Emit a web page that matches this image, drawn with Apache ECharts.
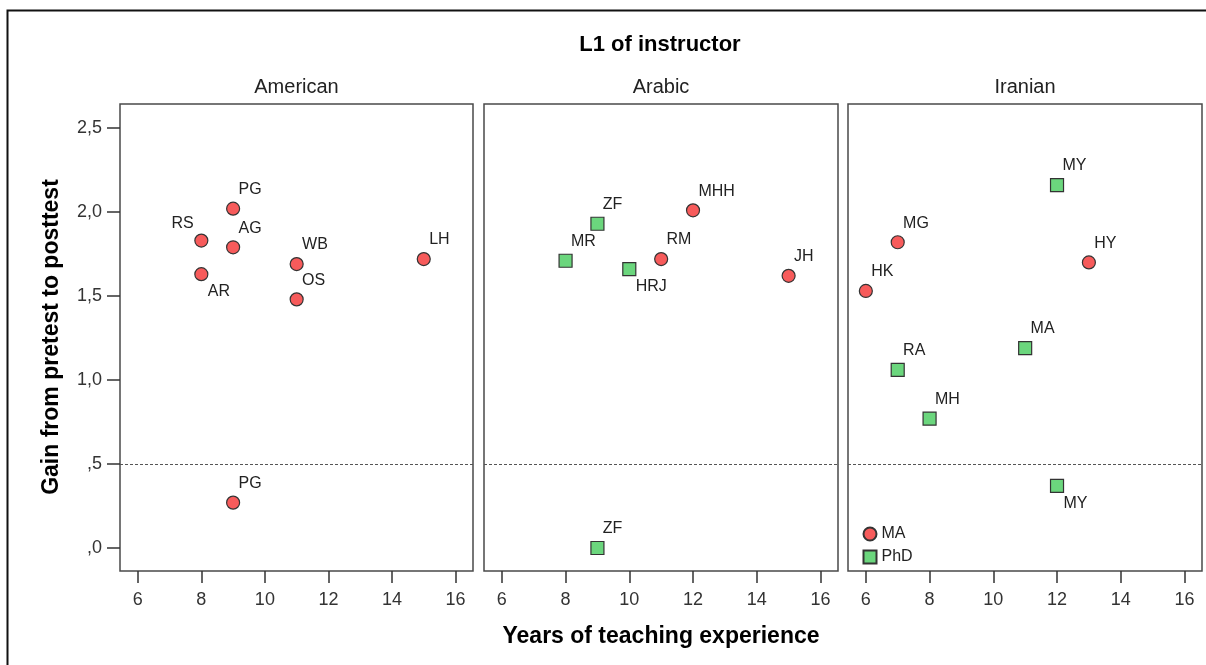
<!DOCTYPE html>
<html>
<head>
<meta charset="utf-8">
<script src="https://cdn.jsdelivr.net/npm/echarts@6/dist/echarts.min.js"></script>
<style>
  html, body { margin: 0; padding: 0; background: #fff; }
  #chart { width: 1206px; height: 665px; }
</style>
</head>
<body>
<div id="chart"></div>
<script>
// ---------------- data ----------------
const panels = ['American', 'Arabic', 'Iranian'];
const degrees = ['MA', 'PhD'];
const xTicks = [6, 8, 10, 12, 14, 16];
const yTicks = [0, 0.5, 1, 1.5, 2, 2.5];
const cutoff = 0.5;

const americanNames  = ['PG', 'RS', 'AG', 'AR', 'WB', 'OS', 'LH', 'PG'];
const americanYears  = [9, 8, 9, 8, 11, 11, 15, 9];
const americanGain   = [2.02, 1.83, 1.79, 1.63, 1.69, 1.48, 1.72, 0.27];
const americanDegree = ['MA', 'MA', 'MA', 'MA', 'MA', 'MA', 'MA', 'MA'];

const arabicNames  = ['ZF', 'MR', 'HRJ', 'RM', 'MHH', 'JH', 'ZF'];
const arabicYears  = [9, 8, 10, 11, 12, 15, 9];
const arabicGain   = [1.93, 1.71, 1.66, 1.72, 2.01, 1.62, 0.00];
const arabicDegree = ['PhD', 'PhD', 'PhD', 'MA', 'MA', 'MA', 'PhD'];

const iranianNames  = ['MY', 'MG', 'HY', 'HK', 'MA', 'RA', 'MH', 'MY'];
const iranianYears  = [12, 7, 13, 6, 11, 7, 8, 12];
const iranianGain   = [2.16, 1.82, 1.70, 1.53, 1.19, 1.06, 0.77, 0.37];
const iranianDegree = ['PhD', 'MA', 'MA', 'MA', 'PhD', 'PhD', 'PhD', 'PhD'];

// ---------------- styling / layout ----------------
const FONT = '"Liberation Sans", Arial, sans-serif';
const panelData = [
  { names: americanNames, years: americanYears, gain: americanGain, degree: americanDegree },
  { names: arabicNames, years: arabicYears, gain: arabicGain, degree: arabicDegree },
  { names: iranianNames, years: iranianYears, gain: iranianGain, degree: iranianDegree }
];
// label placement per point: ur = upper right, ul = upper left, lr = lower right
const labelSpots = [
  ['ur', 'ul', 'ur', 'lr', 'ur', 'ur', 'ur', 'ur'],
  ['ur', 'ur', 'lr', 'ur', 'ur', 'ur', 'ur'],
  ['ur', 'ur', 'ur', 'ur', 'ur', 'ur', 'ur', 'lr']
];
const grids = [
  { left: 120, top: 104, width: 353, height: 467 },
  { left: 484, top: 104, width: 354, height: 467 },
  { left: 848, top: 104, width: 354, height: 467 }
];
const degreeStyle = {
  MA:  { symbol: 'circle', color: '#f75b5b' },
  PhD: { symbol: 'rect',   color: '#6bd67d' }
};
const SYM = 13;

function labelFor(spot) {
  const h = SYM / 2;
  if (spot === 'ul') return { position: [h - 7, h - 16], align: 'right', verticalAlign: 'middle' };
  if (spot === 'lr') return { position: [h + 7, h + 18], align: 'left', verticalAlign: 'middle' };
  return { position: [h + 6, h - 18.5], align: 'left', verticalAlign: 'middle' };
}

function yFmt(v) {
  let s = Number(v).toFixed(1).replace('.', ',');
  if (s.startsWith('0')) s = s.slice(1);
  return s;
}

const gridOpts = grids.map(g => Object.assign({
  show: true, borderColor: '#4a4a4a', borderWidth: 1.5, backgroundColor: '#fff', containLabel: false
}, g));

const xAxes = grids.map((g, i) => ({
  type: 'value', gridIndex: i, min: 5.44, max: 16.55, position: 'bottom',
  splitLine: { show: false },
  axisLine: { show: false, onZero: false },
  axisTick: { show: true, inside: false, length: 12, customValues: xTicks,
              lineStyle: { color: '#333', width: 1.5 } },
  axisLabel: { show: true, customValues: xTicks, margin: 20, fontSize: 18,
               color: '#333', fontFamily: FONT }
}));

const yAxes = grids.map((g, i) => ({
  type: 'value', gridIndex: i, min: -0.137, max: 2.643, position: 'left',
  show: i === 0,
  splitLine: { show: false },
  axisLine: { show: false, onZero: false },
  axisTick: { show: i === 0, inside: false, length: 13, customValues: yTicks,
              lineStyle: { color: '#333', width: 1.5 } },
  axisLabel: { show: i === 0, customValues: yTicks, margin: 18, fontSize: 18,
               color: '#333', fontFamily: FONT, formatter: yFmt }
}));

const series = [];
panelData.forEach((pd, p) => {
  degrees.forEach(d => {
    const data = [];
    pd.names.forEach((n, k) => {
      if (pd.degree[k] !== d) return;
      data.push({ value: [pd.years[k], pd.gain[k]], name: n, label: labelFor(labelSpots[p][k]) });
    });
    const s = {
      type: 'scatter', name: d, xAxisIndex: p, yAxisIndex: p,
      symbol: degreeStyle[d].symbol, symbolSize: SYM,
      itemStyle: { color: degreeStyle[d].color, borderColor: '#333', borderWidth: 1.2, opacity: 1 },
      label: { show: true, formatter: '{b}', fontSize: 16, color: '#222', fontFamily: FONT },
      emphasis: { disabled: true },
      z: 3,
      data: data
    };
    if (d === 'MA') {
      s.markLine = {
        silent: true, symbol: 'none', animation: false,
        label: { show: false },
        lineStyle: { color: '#555', type: [3, 2], width: 1 },
        emphasis: { disabled: true },
        data: [{ yAxis: cutoff }]
      };
    }
    series.push(s);
  });
});

function txt(text, x, y, size, weight, color, rotation) {
  return {
    type: 'text', x: x, y: y, rotation: rotation || 0, silent: true, z: 10,
    style: {
      text: text, fill: color, font: weight + ' ' + size + 'px ' + FONT,
      align: 'center', verticalAlign: 'middle',
      textAlign: 'center', textVerticalAlign: 'middle'
    }
  };
}

const graphics = [
  { type: 'rect', silent: true, z: 0,
    shape: { x: 7.5, y: 10.5, width: 1400, height: 900 },
    style: { fill: 'none', stroke: '#111', lineWidth: 2 } },
  txt('L1 of instructor', 660, 45, 22, 'bold', '#000'),
  txt('Years of teaching experience', 661, 637, 23, 'bold', '#000'),
  txt('Gain from pretest to posttest', 52, 337, 23, 'bold', '#000', Math.PI / 2)
];
panels.forEach((name, i) => {
  graphics.push(txt(name, grids[i].left + grids[i].width / 2, 87, 20, 'normal', '#222'));
});

const chart = echarts.init(document.getElementById('chart'), null, { renderer: 'canvas' });
chart.setOption({
  animation: false,
  backgroundColor: '#fff',
  grid: gridOpts,
  xAxis: xAxes,
  yAxis: yAxes,
  legend: {
    orient: 'vertical', left: 862.5, top: 526, padding: 0,
    itemWidth: SYM, itemHeight: SYM, itemGap: 7, selectedMode: false,
    data: degrees,
    textStyle: { fontSize: 16, color: '#222', fontFamily: FONT }
  },
  graphic: graphics,
  series: series
});
</script>
</body>
</html>
